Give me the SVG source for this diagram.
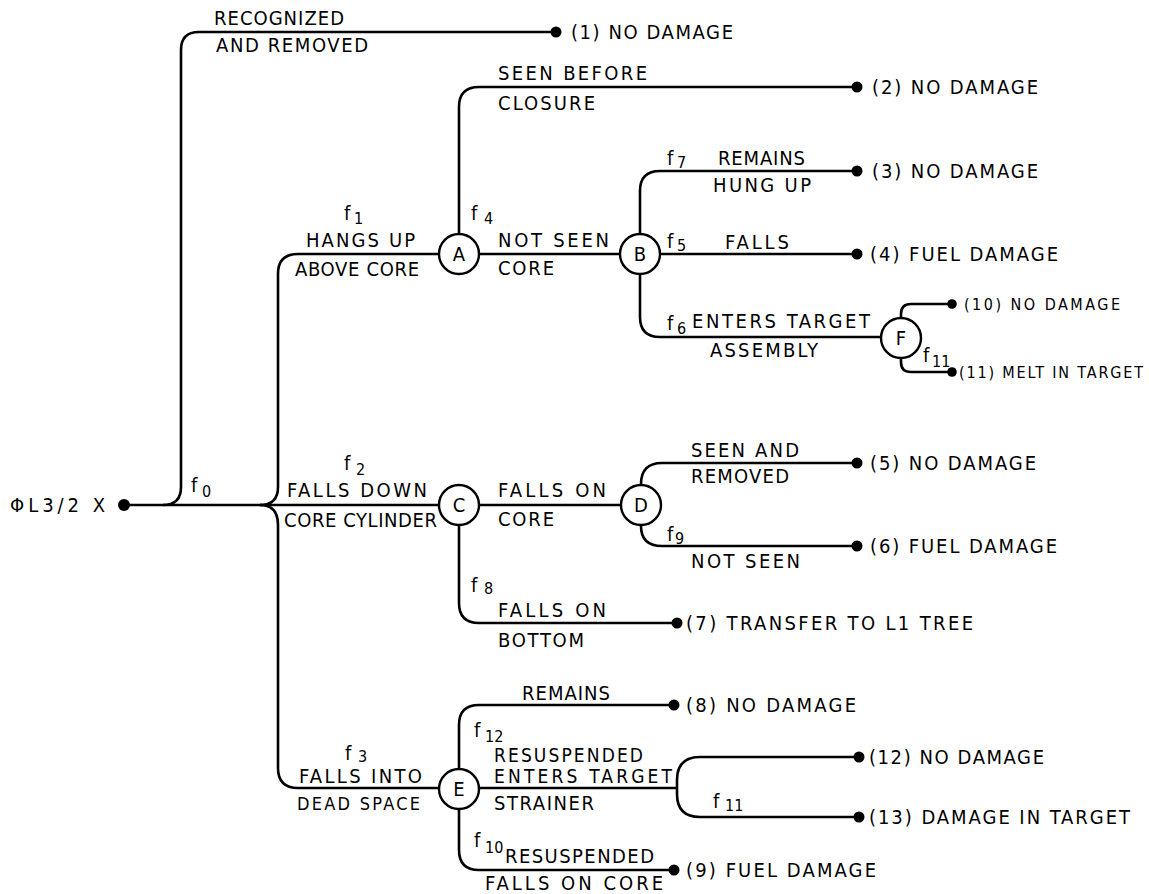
<svg xmlns="http://www.w3.org/2000/svg" width="1149" height="894" viewBox="0 0 1149 894">
<style>
text{font-family:"DejaVu Sans Condensed","DejaVu Sans","Liberation Sans",sans-serif;font-stretch:condensed;font-size:20px;fill:#000}
.s{font-size:16px}
.m{font-size:18px}
.t{font-size:19px}
.c{text-anchor:middle}
.ln{fill:none;stroke:#000;stroke-width:2.6;stroke-linejoin:round}
.nd{fill:#fff;stroke:#000;stroke-width:2.4}
.dot{fill:#000}
</style>
<rect width="1149" height="894" fill="#fff"/>
<g id="connectors">
<path class="ln" d="M126 505 H439"/>
<path class="ln" d="M163 505 Q181 505 181 487 V50 Q181 32 199 32 H556"/>
<path class="ln" d="M260 505 Q278 505 278 487 V274 Q278 254 298 254 H439"/>
<path class="ln" d="M260 505 Q278 505 278 525 V768 Q278 788 298 788 H439"/>
<path class="ln" d="M459 234 V107 Q459 87 479 87 H857"/>
<path class="ln" d="M479 254 H620"/>
<path class="ln" d="M640 233 V191 Q640 171 660 171 H857"/>
<path class="ln" d="M660 254 H857"/>
<path class="ln" d="M640 275 V317 Q640 337 660 337 H881"/>
<path class="ln" d="M901 318 V314 Q901 304 911 304 H952"/>
<path class="ln" d="M901 358 V362 Q901 372 911 372 H952"/>
<path class="ln" d="M479 505 H620"/>
<path class="ln" d="M641 484 Q641 463 662 463 H857"/>
<path class="ln" d="M641 526 Q641 546 662 546 H857"/>
<path class="ln" d="M459 526 V603 Q459 623 479 623 H677"/>
<path class="ln" d="M459 768 V725 Q459 705 479 705 H674"/>
<path class="ln" d="M479 788 H677"/>
<path class="ln" d="M859 757 H700 Q677 757 677 780 V794 Q677 817 700 817 H859"/>
<path class="ln" d="M459 810 V850 Q459 870 479 870 H674"/>
</g>
<g id="edge-labels">
<text x="214" y="25" textLength="130" lengthAdjust="spacing">RECOGNIZED</text>
<text x="216" y="52" textLength="152" lengthAdjust="spacing">AND REMOVED</text>
<text x="498" y="80" textLength="149" lengthAdjust="spacing">SEEN BEFORE</text>
<text x="498" y="110" textLength="97" lengthAdjust="spacing">CLOSURE</text>
<text x="718" y="165" textLength="87" lengthAdjust="spacing">REMAINS</text>
<text x="713" y="192" textLength="98" lengthAdjust="spacing">HUNG UP</text>
<text x="306" y="247" textLength="109" lengthAdjust="spacing">HANGS UP</text>
<text x="295" y="276" textLength="124" lengthAdjust="spacing">ABOVE CORE</text>
<text x="498" y="247" textLength="111" lengthAdjust="spacing">NOT SEEN</text>
<text x="498" y="275" textLength="56" lengthAdjust="spacing">CORE</text>
<text x="725" y="249" textLength="64" lengthAdjust="spacing">FALLS</text>
<text x="692" y="328" textLength="178" lengthAdjust="spacing">ENTERS TARGET</text>
<text x="710" y="357" textLength="108" lengthAdjust="spacing">ASSEMBLY</text>
<text x="691" y="457" textLength="108" lengthAdjust="spacing">SEEN AND</text>
<text x="691" y="483" textLength="98" lengthAdjust="spacing">REMOVED</text>
<text x="691" y="568" textLength="109" lengthAdjust="spacing">NOT SEEN</text>
<text x="287" y="497" textLength="140" lengthAdjust="spacing">FALLS DOWN</text>
<text x="284" y="527" textLength="153" lengthAdjust="spacing">CORE CYLINDER</text>
<text x="498" y="497" textLength="108" lengthAdjust="spacing">FALLS ON</text>
<text x="498" y="526" textLength="56" lengthAdjust="spacing">CORE</text>
<text x="498" y="617" textLength="108" lengthAdjust="spacing">FALLS ON</text>
<text x="498" y="647" textLength="86" lengthAdjust="spacing">BOTTOM</text>
<text x="522" y="700" textLength="88" lengthAdjust="spacing">REMAINS</text>
<text x="299" y="783" textLength="123" lengthAdjust="spacing">FALLS INTO</text>
<text x="297" y="810" class="m" textLength="123" lengthAdjust="spacing">DEAD SPACE</text>
<text x="494" y="762" class="t" textLength="149" lengthAdjust="spacing">RESUSPENDED</text>
<text x="494" y="783" class="t" textLength="178" lengthAdjust="spacing">ENTERS TARGET</text>
<text x="494" y="810" textLength="100" lengthAdjust="spacing">STRAINER</text>
<text x="505" y="863" textLength="149" lengthAdjust="spacing">RESUSPENDED</text>
<text x="485" y="890" textLength="178" lengthAdjust="spacing">FALLS ON CORE</text>
</g>
<g id="probabilities">
<text x="191" y="492">f</text><text x="202" y="497" class="s">0</text>
<text x="344" y="220">f</text><text x="354" y="224" class="s">1</text>
<text x="344" y="470">f</text><text x="356" y="475" class="s">2</text>
<text x="345" y="760">f</text><text x="358" y="762" class="s">3</text>
<text x="471" y="220">f</text><text x="484" y="224" class="s">4</text>
<text x="667" y="248">f</text><text x="677" y="251" class="s">5</text>
<text x="667" y="330">f</text><text x="677" y="334" class="s">6</text>
<text x="667" y="165">f</text><text x="677" y="168" class="s">7</text>
<text x="471" y="592">f</text><text x="484" y="594" class="s">8</text>
<text x="667" y="541">f</text><text x="675" y="544" class="s">9</text>
<text x="474" y="847">f</text><text x="485" y="853" class="s">10</text>
<text x="923" y="362">f</text><text x="932" y="367" class="s">11</text>
<text x="713" y="808">f</text><text x="725" y="811" class="s">11</text>
<text x="474" y="737">f</text><text x="485" y="742" class="s">12</text>
</g>
<g id="node-start">
<circle class="dot" cx="124" cy="505" r="6"/>
<text x="10" y="512" textLength="95" lengthAdjust="spacing">ΦL3/2 X</text>
</g>
<g id="node-A"><circle class="nd" cx="459" cy="254" r="20"/><text class="c" x="459" y="261">A</text></g>
<g id="node-B"><circle class="nd" cx="640" cy="254" r="20"/><text class="c" x="640" y="261">B</text></g>
<g id="node-C"><circle class="nd" cx="459" cy="505" r="20"/><text class="c" x="459" y="512">C</text></g>
<g id="node-D"><circle class="nd" cx="641" cy="505" r="20"/><text class="c" x="641" y="512">D</text></g>
<g id="node-E"><circle class="nd" cx="459" cy="789" r="20"/><text class="c" x="459" y="796">E</text></g>
<g id="node-F"><circle class="nd" cx="901" cy="338" r="20"/><text class="c" x="901" y="345">F</text></g>
<g id="outcome-1"><circle class="dot" cx="556" cy="32" r="5.5"/><text x="571" y="39" textLength="162" lengthAdjust="spacing">(1) NO DAMAGE</text></g>
<g id="outcome-2"><circle class="dot" cx="857" cy="87" r="5.5"/><text x="872" y="94" textLength="166" lengthAdjust="spacing">(2) NO DAMAGE</text></g>
<g id="outcome-3"><circle class="dot" cx="857" cy="171" r="5.5"/><text x="872" y="178" textLength="166" lengthAdjust="spacing">(3) NO DAMAGE</text></g>
<g id="outcome-4"><circle class="dot" cx="857" cy="254" r="5.5"/><text x="870" y="261" textLength="188" lengthAdjust="spacing">(4) FUEL DAMAGE</text></g>
<g id="outcome-10"><circle class="dot" cx="952" cy="304" r="4.8"/><text x="964" y="310" class="s" textLength="156" lengthAdjust="spacing">(10) NO DAMAGE</text></g>
<g id="outcome-11"><circle class="dot" cx="952" cy="372" r="4.8"/><text x="959" y="378" class="s" textLength="184" lengthAdjust="spacing">(11) MELT IN TARGET</text></g>
<g id="outcome-5"><circle class="dot" cx="857" cy="463" r="5.5"/><text x="870" y="470" textLength="166" lengthAdjust="spacing">(5) NO DAMAGE</text></g>
<g id="outcome-6"><circle class="dot" cx="857" cy="546" r="5.5"/><text x="870" y="553" textLength="187" lengthAdjust="spacing">(6) FUEL DAMAGE</text></g>
<g id="outcome-7"><circle class="dot" cx="677" cy="623" r="5.5"/><text x="686" y="630" textLength="287" lengthAdjust="spacing">(7) TRANSFER TO L1 TREE</text></g>
<g id="outcome-8"><circle class="dot" cx="674" cy="705" r="5.5"/><text x="686" y="712" textLength="170" lengthAdjust="spacing">(8) NO DAMAGE</text></g>
<g id="outcome-12"><circle class="dot" cx="859" cy="757" r="5.5"/><text x="869" y="764" textLength="175" lengthAdjust="spacing">(12) NO DAMAGE</text></g>
<g id="outcome-13"><circle class="dot" cx="859" cy="817" r="5.5"/><text x="869" y="824" textLength="261" lengthAdjust="spacing">(13) DAMAGE IN TARGET</text></g>
<g id="outcome-9"><circle class="dot" cx="674" cy="870" r="5.5"/><text x="686" y="877" textLength="190" lengthAdjust="spacing">(9) FUEL DAMAGE</text></g>
</svg>
